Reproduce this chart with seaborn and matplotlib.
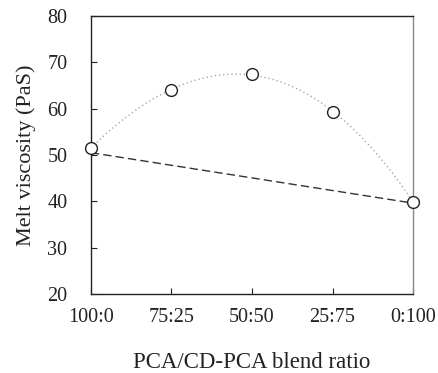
import matplotlib
matplotlib.use("Agg")
import matplotlib.pyplot as plt
import seaborn as sns
import numpy as np
import pandas as pd

# Blend ratios (PCA/CD-PCA) and measured melt viscosity
ratios = ["100:0", "75:25", "50:50", "25:75", "0:100"]
viscosity = [51.5, 64.0, 67.5, 59.3, 39.9]
# Additivity (rule-of-mixtures) line between the neat components
additive_ends = [50.5, 39.6]
y_ticks = [20, 30, 40, 50, 60, 70, 80]

sns.set_theme(style="ticks")
plt.rcParams["font.family"] = ["Liberation Serif", "DejaVu Serif"]

df = pd.DataFrame({"pos": np.arange(len(ratios)), "visc": viscosity})

fig = plt.figure(figsize=(4.39, 3.73), dpi=100)
ax = fig.add_axes([0.207, 0.212, 0.734, 0.745])

# smooth trend through the measured points
sns.regplot(data=df, x="pos", y="visc", order=3, ci=None, scatter=False,
            truncate=True, ax=ax,
            line_kws=dict(color="#a8a8a8", lw=1.0, ls=(0, (1, 2))))

# additivity line
sns.lineplot(x=[0, len(ratios) - 1], y=additive_ends, ax=ax,
             color="#333333", lw=1.0, linestyle=(0, (6, 3)))

# measured points
ax.plot(df["pos"], df["visc"], ls="none", marker="o", ms=8.5,
        mfc="white", mec="#222222", mew=1.0, zorder=5, clip_on=False)

ax.set_xlim(0, len(ratios) - 1)
ax.set_ylim(20, 80)
ax.set_xticks(range(len(ratios)))
ax.set_xticklabels(ratios)
ax.set_yticks(y_ticks)
ax.tick_params(direction="in", length=4, width=0.8, labelsize=14.5,
               colors="#222222")
ax.tick_params(axis="x", pad=10)
ax.tick_params(axis="y", pad=17)
ax.set_xlabel("PCA/CD-PCA blend ratio", fontsize=16.5, labelpad=18, color="#222222")
ax.set_ylabel("Melt viscosity (PaS)", fontsize=16, labelpad=8, color="#222222")

for side in ["left", "bottom", "top"]:
    ax.spines[side].set_color("#222222")
    ax.spines[side].set_linewidth(1.0)
ax.spines["right"].set_color("#888888")
ax.spines["right"].set_linewidth(1.0)

fig.savefig("out.png", dpi=100)
